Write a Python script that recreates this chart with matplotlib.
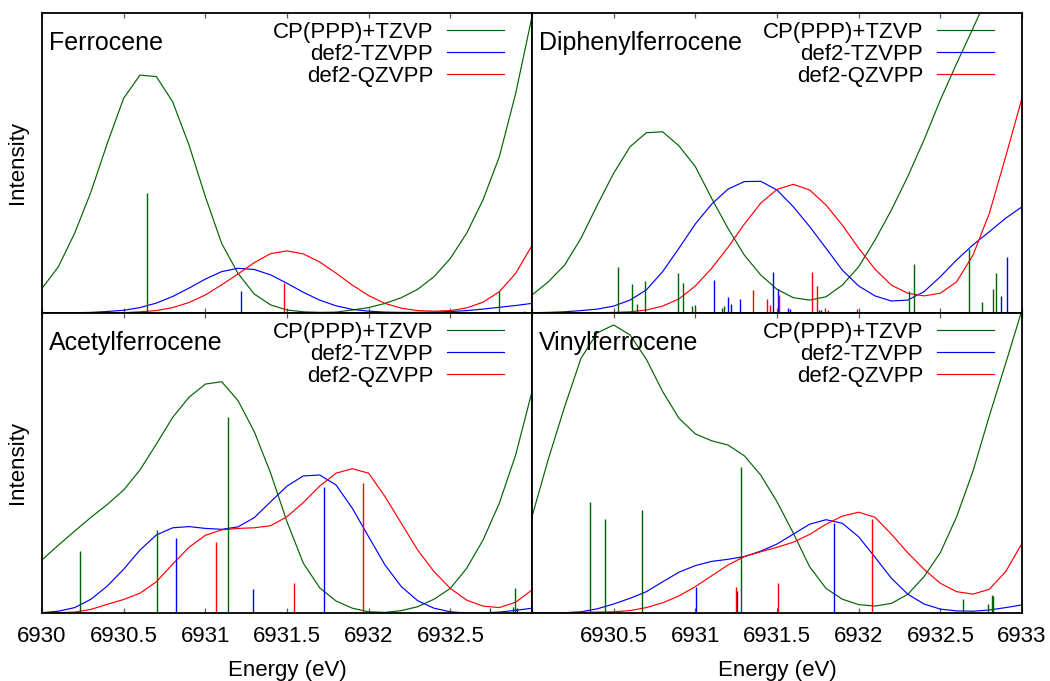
import matplotlib
matplotlib.use("Agg")
import matplotlib.pyplot as plt
import numpy as np

plt.rcParams["font.family"] = ["Liberation Sans", "DejaVu Sans"]
plt.rcParams["font.size"] = 16

# общая сетка энергий для уширенных спектров (шаг 0.1 эВ)
ENERGY = np.linspace(6930.0, 6933.0, 31)
X_TICKS = [6930, 6930.5, 6931, 6931.5, 6932, 6932.5, 6933]
X_LABELS_LEFT = ["6930", "6930.5", "6931", "6931.5", "6932", "6932.5", ""]
X_LABELS_RIGHT = ["", "6930.5", "6931", "6931.5", "6932", "6932.5", "6933"]
METHODS = ["CP(PPP)+TZVP", "def2-TZVPP", "def2-QZVPP"]
COLORS = ["#006400", "#0000ff", "#ff0000"]

# --- Ferrocene ---
FC_CP = [0.082, 0.154, 0.266, 0.404, 0.566, 0.716, 0.793, 0.788, 0.704, 0.56,
         0.388, 0.232, 0.132, 0.063, 0.027, 0.01, 0.004, 0.002, 0.003, 0.01,
         0.018, 0.032, 0.051, 0.079, 0.121, 0.182, 0.266, 0.377, 0.521, 0.732, 0.988]
FC_TZ = [0.0, 0.0, 0.001, 0.002, 0.005, 0.009, 0.018, 0.033, 0.055, 0.083,
         0.113, 0.138, 0.149, 0.145, 0.127, 0.099, 0.069, 0.043, 0.024, 0.012,
         0.006, 0.003, 0.002, 0.002, 0.003, 0.005, 0.008, 0.013, 0.019, 0.025, 0.032]
FC_QZ = [0.0, 0.0, 0.0, 0.0, 0.0, 0.001, 0.004, 0.008, 0.018, 0.035,
         0.06, 0.094, 0.13, 0.168, 0.198, 0.207, 0.197, 0.17, 0.133, 0.093,
         0.058, 0.032, 0.016, 0.008, 0.006, 0.008, 0.017, 0.036, 0.071, 0.132, 0.225]
FC_CP_E, FC_CP_I = [6930.645, 6932.80], [0.401, 0.073]
FC_TZ_E, FC_TZ_I = [6931.217], [0.073]
FC_QZ_E, FC_QZ_I = [6931.484, 6932.95], [0.099, 0.008]

# --- Diphenylferrocene ---
DP_CP = [0.06, 0.104, 0.16, 0.249, 0.36, 0.466, 0.554, 0.601, 0.604, 0.557,
         0.488, 0.382, 0.282, 0.193, 0.127, 0.079, 0.051, 0.043, 0.054, 0.093,
         0.154, 0.243, 0.343, 0.454, 0.577, 0.71, 0.832, 0.949, 1.07, 1.2, 1.3]
DP_TZ = [0.001, 0.002, 0.004, 0.008, 0.013, 0.023, 0.043, 0.077, 0.138, 0.216,
         0.297, 0.363, 0.413, 0.438, 0.439, 0.41, 0.354, 0.288, 0.216, 0.143,
         0.09, 0.057, 0.04, 0.043, 0.071, 0.121, 0.177, 0.227, 0.271, 0.316, 0.354]
DP_QZ = [0.0, 0.0, 0.0, 0.0, 0.001, 0.002, 0.004, 0.01, 0.023, 0.047,
         0.09, 0.149, 0.219, 0.296, 0.366, 0.412, 0.429, 0.41, 0.36, 0.293,
         0.216, 0.146, 0.093, 0.066, 0.057, 0.066, 0.104, 0.193, 0.332, 0.521, 0.716]
DP_CP_E = [6930.528, 6930.614, 6930.641, 6930.692, 6930.892, 6930.922, 6930.978,
           6930.996, 6931.161, 6931.178, 6932.31, 6932.341, 6932.678, 6932.753,
           6932.82, 6932.84]
DP_CP_I = [0.154, 0.097, 0.03, 0.108, 0.134, 0.101, 0.023, 0.027, 0.018, 0.023,
           0.074, 0.163, 0.212, 0.037, 0.079, 0.134]
DP_TZ_E = [6931.116, 6931.2, 6931.216, 6931.276, 6931.478, 6931.508, 6931.565,
           6931.58, 6931.755, 6931.77, 6932.871, 6932.906]
DP_TZ_I = [0.11, 0.052, 0.029, 0.046, 0.138, 0.079, 0.017, 0.012, 0.01, 0.01,
           0.057, 0.188]
DP_QZ_E = [6931.355, 6931.437, 6931.455, 6931.512, 6931.712, 6931.743, 6931.794,
           6931.81, 6931.99]
DP_QZ_I = [0.077, 0.047, 0.027, 0.06, 0.136, 0.09, 0.018, 0.009, 0.012]

# --- Acetylferrocene ---
AC_CP = [0.177, 0.226, 0.273, 0.319, 0.362, 0.41, 0.477, 0.563, 0.652, 0.719,
         0.763, 0.771, 0.708, 0.604, 0.466, 0.304, 0.166, 0.084, 0.04, 0.016,
         0.004, 0.002, 0.008, 0.021, 0.046, 0.082, 0.149, 0.243, 0.366, 0.527, 0.738]
AC_TZ = [0.001, 0.006, 0.018, 0.046, 0.09, 0.146, 0.21, 0.26, 0.284, 0.288,
         0.282, 0.279, 0.287, 0.318, 0.371, 0.423, 0.457, 0.46, 0.427, 0.349,
         0.254, 0.16, 0.088, 0.041, 0.016, 0.004, 0.0, 0.0, 0.003, 0.009, 0.016]
AC_QZ = [0.0, 0.001, 0.003, 0.012, 0.029, 0.045, 0.066, 0.104, 0.163, 0.219,
         0.259, 0.277, 0.282, 0.284, 0.291, 0.321, 0.368, 0.423, 0.466, 0.481,
         0.466, 0.388, 0.299, 0.21, 0.138, 0.082, 0.043, 0.023, 0.018, 0.036, 0.077]
AC_CP_E = [6930.231, 6930.706, 6931.139, 6932.743, 6932.886, 6932.896]
AC_CP_I = [0.208, 0.277, 0.652, 0.016, 0.02, 0.084]
AC_TZ_E = [6930.82, 6931.29, 6931.727, 6932.91]
AC_TZ_I = [0.251, 0.081, 0.421, 0.016]
AC_QZ_E = [6931.065, 6931.543, 6931.963]
AC_QZ_I = [0.237, 0.099, 0.434]

# --- Vinylferrocene ---
VF_CP = [0.321, 0.513, 0.688, 0.849, 0.934, 0.96, 0.927, 0.846, 0.738, 0.649,
         0.597, 0.574, 0.56, 0.524, 0.46, 0.371, 0.266, 0.154, 0.082, 0.046,
         0.028, 0.023, 0.032, 0.062, 0.121, 0.201, 0.321, 0.473, 0.657, 0.832, 1.01]
VF_TZ = [0.0, 0.0, 0.001, 0.004, 0.014, 0.03, 0.049, 0.071, 0.104, 0.136,
         0.158, 0.172, 0.179, 0.188, 0.206, 0.23, 0.263, 0.296, 0.311, 0.299,
         0.254, 0.186, 0.116, 0.063, 0.03, 0.013, 0.007, 0.006, 0.01, 0.018, 0.027]
VF_QZ = [0.0, 0.0, 0.001, 0.002, 0.003, 0.004, 0.008, 0.018, 0.034, 0.057,
         0.088, 0.124, 0.16, 0.188, 0.204, 0.219, 0.236, 0.262, 0.296, 0.323,
         0.336, 0.319, 0.263, 0.201, 0.146, 0.099, 0.071, 0.063, 0.079, 0.138, 0.232]
VF_CP_E = [6930.357, 6930.447, 6930.673, 6931.278, 6932.641, 6932.79, 6932.814, 6932.825]
VF_CP_I = [0.371, 0.312, 0.343, 0.486, 0.046, 0.03, 0.06, 0.057]
VF_TZ_E = [6931.004, 6931.257, 6931.851]
VF_TZ_I = [0.088, 0.073, 0.299]
VF_QZ_E = [6931.251, 6931.506, 6932.084]
VF_QZ_I = [0.088, 0.099, 0.312]

PANELS = [
    ("Ferrocene", (FC_CP, FC_TZ, FC_QZ),
     ((FC_CP_E, FC_CP_I), (FC_TZ_E, FC_TZ_I), (FC_QZ_E, FC_QZ_I))),
    ("Diphenylferrocene", (DP_CP, DP_TZ, DP_QZ),
     ((DP_CP_E, DP_CP_I), (DP_TZ_E, DP_TZ_I), (DP_QZ_E, DP_QZ_I))),
    ("Acetylferrocene", (AC_CP, AC_TZ, AC_QZ),
     ((AC_CP_E, AC_CP_I), (AC_TZ_E, AC_TZ_I), (AC_QZ_E, AC_QZ_I))),
    ("Vinylferrocene", (VF_CP, VF_TZ, VF_QZ),
     ((VF_CP_E, VF_CP_I), (VF_TZ_E, VF_TZ_I), (VF_QZ_E, VF_QZ_I))),
]

W_PX, H_PX = 1050, 681
fig = plt.figure(figsize=(W_PX / 100, H_PX / 100), dpi=100)

# панели в пикселях: (left, top) в координатах картинки
boxes = [(42, 13), (532, 13), (42, 313), (532, 313)]
LEG_Y = [0.945, 0.871, 0.797]

for i, ((name, curves, sticks), (lx, ty)) in enumerate(zip(PANELS, boxes)):
    ax = fig.add_axes([lx / W_PX, (H_PX - ty - 300) / H_PX, 490 / W_PX, 300 / H_PX])
    for c, y in zip(COLORS, curves):
        ax.plot(ENERGY, y, color=c, lw=0.85)
    for c, (e, h) in zip(COLORS, sticks):
        ax.vlines(e, 0, h, color=c, lw=1.0)
    ax.set_xlim(6930, 6933)
    ax.set_ylim(0, 1)
    ax.set_yticks([])
    ax.set_xticks(X_TICKS)
    ax.tick_params(axis="x", direction="in", top=True, length=3.5, width=0.9,
                   color="0.35", pad=9, labelsize=16)
    if i >= 2:
        ax.set_xticklabels(X_LABELS_LEFT if i == 2 else X_LABELS_RIGHT)
        ax.set_xlabel("Energy (eV)", labelpad=9.5)
    else:
        ax.set_xticklabels([])
    if i % 2 == 0:
        ax.set_ylabel("Intensity", labelpad=10)
    for s in ax.spines.values():
        s.set_linewidth(1.3)
        s.set_zorder(5)

    ax.text(0.015, 0.877, name, transform=ax.transAxes, ha="left",
            va="baseline", fontsize=18)
    for yl, lab, c in zip(LEG_Y, METHODS, COLORS):
        ax.text(0.798, yl - 0.027, lab, transform=ax.transAxes,
                ha="right", va="baseline")
        ax.plot([0.827, 0.943], [yl, yl], color=c, lw=0.85, transform=ax.transAxes)

fig.savefig("out.png", dpi=100)
